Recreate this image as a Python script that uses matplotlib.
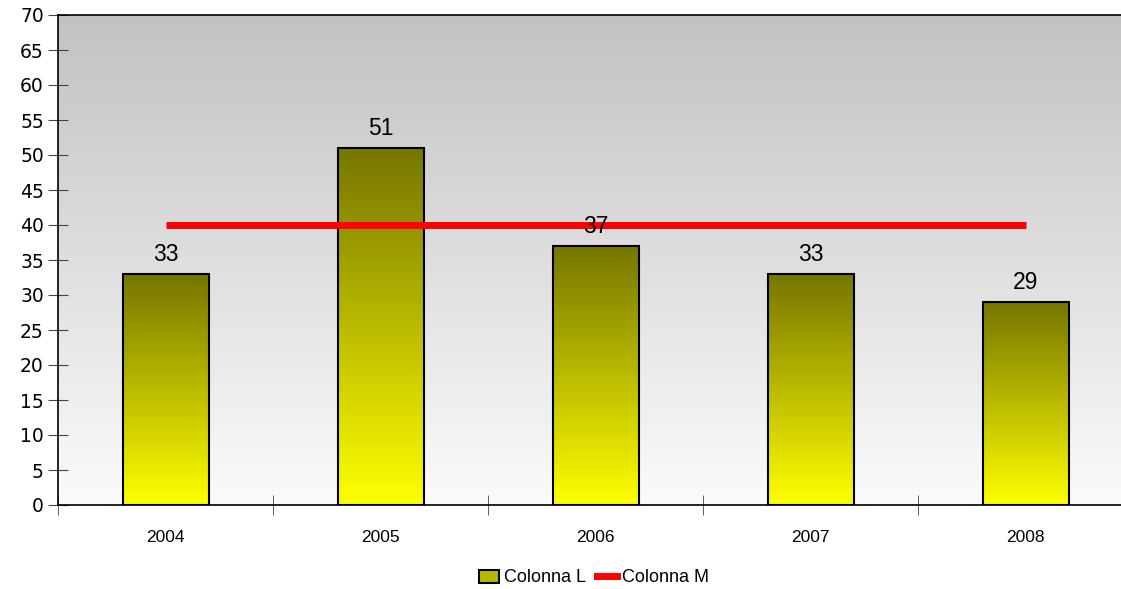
import numpy as np
import matplotlib
matplotlib.use('Agg')
import matplotlib.pyplot as plt
from matplotlib.patches import Patch
from matplotlib.lines import Line2D
from matplotlib.colors import LinearSegmentedColormap

years = ['2004', '2005', '2006', '2007', '2008']
colonna_l = [33, 51, 37, 33, 29]
colonna_m = [40, 40, 40, 40, 40]

fig = plt.figure(figsize=(11.21, 5.89), dpi=100)
ax = fig.add_axes([58 / 1121, 84 / 589, 1075 / 1121, 490 / 589])

x = np.arange(len(years))
ax.set_xlim(-0.5, 4.5)
ax.set_ylim(0, 70)

# grey background gradient
bg = LinearSegmentedColormap.from_list('bg', ['#fbfbfb', '#c2c2c2'])
grad = np.linspace(0, 1, 256).reshape(-1, 1)
ax.imshow(grad, cmap=bg, origin='lower', aspect='auto',
          extent=(-0.5, 4.5, 0, 70), zorder=0)

# bars with olive -> yellow gradient
barcm = LinearSegmentedColormap.from_list('bar', ['#ffff00', '#767600'])
bars = ax.bar(x, colonna_l, width=0.4, facecolor='none', edgecolor='black',
              linewidth=1.5, zorder=3)
for b in bars:
    im = ax.imshow(grad, cmap=barcm, origin='lower', aspect='auto',
                   extent=(b.get_x(), b.get_x() + b.get_width(), 0, b.get_height()),
                   zorder=2)
    im.set_clip_path(b)

ax.plot(x, colonna_m, color='#ff0000', linewidth=5, zorder=4, solid_capstyle='butt')

for xi, v in zip(x, colonna_l):
    ax.text(xi, v + 1.1, str(v), ha='center', va='bottom', fontsize=16.5,
            family='Liberation Sans', zorder=5)

ax.set_xlim(-0.5, 4.5)
ax.set_ylim(0, 70)
ax.set_yticks(range(0, 71, 5))
ax.set_xticks(x)
ax.set_xticklabels(years, family='Liberation Sans', fontsize=12.5)
ax.set_xticks(np.arange(-0.5, 5, 1), minor=True)
ax.tick_params(axis='x', which='major', length=0, pad=18)
ax.tick_params(axis='x', which='minor', direction='inout', length=14.4, color='#444444')
ax.tick_params(axis='y', direction='inout', length=14.4, color='#444444', labelsize=13.5, pad=3)
ax.spines['right'].set_visible(False)
for s in ['left', 'bottom', 'top']:
    ax.spines[s].set_linewidth(1.2)

handles = [Patch(facecolor='#b8b800', edgecolor='black', linewidth=1.5),
           Line2D([0], [0], color='#ff0000', linewidth=5)]
fig.legend(handles, ['Colonna L', 'Colonna M'], loc='center', bbox_to_anchor=(0.53, 11 / 589),
           ncol=2, frameon=False, prop={'family': 'Liberation Sans', 'size': 13},
           handlelength=1.1, handletextpad=0.3, columnspacing=0.6)

fig.savefig('out.png', dpi=100)
